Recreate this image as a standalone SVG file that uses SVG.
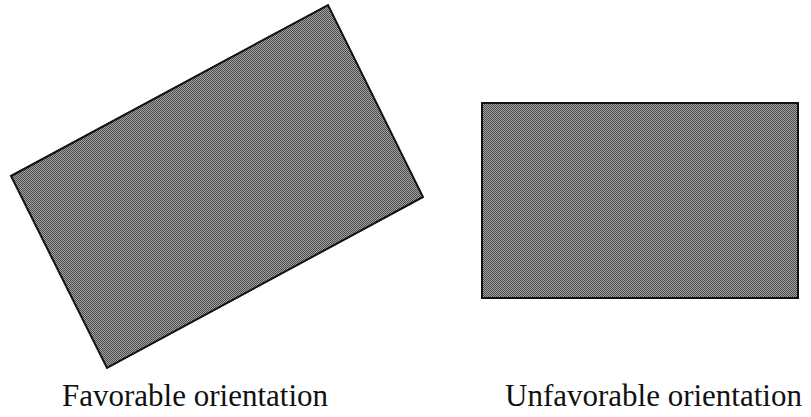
<svg xmlns="http://www.w3.org/2000/svg" width="811" height="417" viewBox="0 0 811 417">
  <style>
    .plate { fill: url(#dither); stroke: #111; stroke-width: 2; stroke-linejoin: miter; }
    .label { font-family: "Liberation Serif", "Times New Roman", serif; font-size: 31px; fill: #111; }
  </style>
  <defs>
    <pattern id="dither" patternUnits="userSpaceOnUse" width="2" height="2">
      <rect width="2" height="2" fill="#a4a4a4"/>
      <rect width="1" height="1" fill="#4a4a4a"/>
      <rect x="1" y="1" width="1" height="1" fill="#4a4a4a"/>
    </pattern>
  </defs>
  <g id="favorable">
    <polygon class="plate" points="11,176 328,5 423,197 107,368"/>
    <text class="label" x="62" y="406">Favorable orientation</text>
  </g>
  <g id="unfavorable">
    <rect class="plate" x="482" y="103" width="316" height="195"/>
    <text class="label" x="505" y="406">Unfavorable orientation</text>
  </g>
</svg>
